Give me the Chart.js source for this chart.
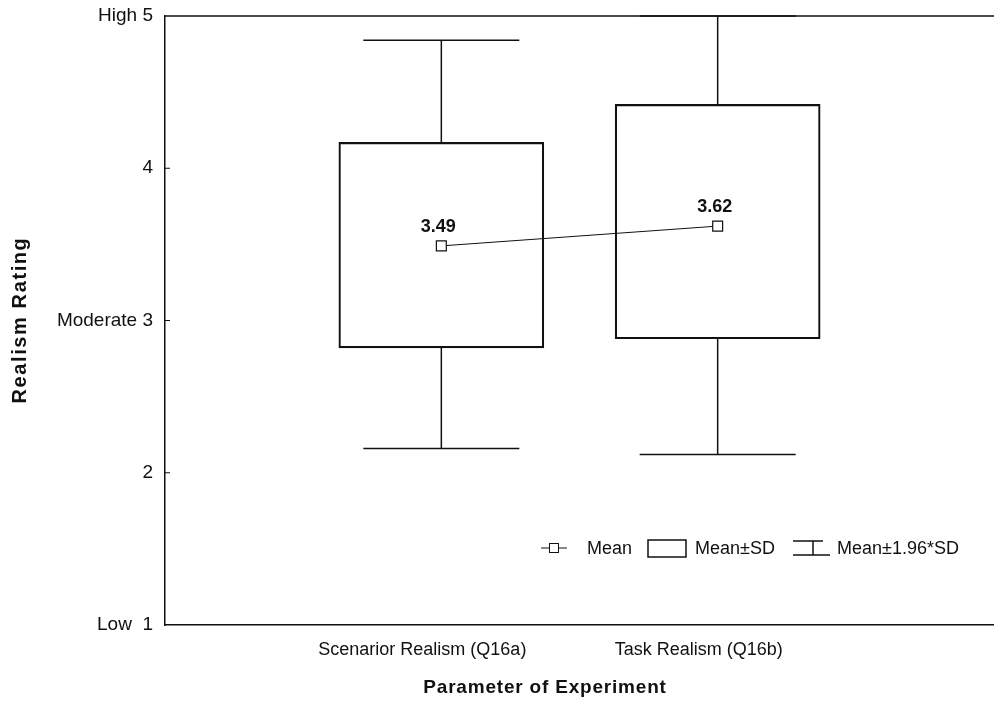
<!DOCTYPE html>
<html>
<head>
<meta charset="utf-8">
<script src="https://cdn.jsdelivr.net/npm/chart.js@4.4.1/dist/chart.umd.min.js"></script>
<style>
  html, body { margin: 0; padding: 0; background: #fff; }
  #wrap { width: 994px; height: 704px; }
</style>
</head>
<body>
<div id="wrap"><canvas id="boxChart" width="994" height="704"></canvas></div>
<script>
// ---- data ----
var groups = ["Scenarior Realism (Q16a)", "Task Realism (Q16b)"];
var groupPos = [1, 2];
var means = [3.49, 3.62];
var sdLow = [2.82, 2.88];
var sdHigh = [4.17, 4.42];
var ciLow = [2.16, 2.12];
var ciHigh = [4.84, 5.0];
var yTickLabels = ["Low  1", "2", "Moderate 3", "4", "High 5"];

var FONT = "'Liberation Sans', Arial, Helvetica, sans-serif";
var INK = "#111";

// whiskers, mean labels, frame, titles, legend
var extrasPlugin = {
  id: "extras",
  beforeDatasetsDraw: function(chart) {
    var ctx = chart.ctx, xs = chart.scales.x, ys = chart.scales.y, area = chart.chartArea;
    ctx.save();
    ctx.beginPath();
    ctx.rect(area.left, area.top - 1, area.right - area.left, area.bottom - area.top + 2);
    ctx.clip();
    ctx.strokeStyle = INK;
    ctx.lineWidth = 1.5;
    groupPos.forEach(function(p, i) {
      var x = xs.getPixelForValue(p);
      var capHalf = 78;
      ctx.beginPath();
      ctx.moveTo(x, ys.getPixelForValue(ciLow[i]));
      ctx.lineTo(x, ys.getPixelForValue(sdLow[i]));
      ctx.moveTo(x, ys.getPixelForValue(sdHigh[i]));
      ctx.lineTo(x, ys.getPixelForValue(ciHigh[i]));
      ctx.moveTo(x - capHalf, ys.getPixelForValue(ciLow[i]));
      ctx.lineTo(x + capHalf, ys.getPixelForValue(ciLow[i]));
      ctx.moveTo(x - capHalf, ys.getPixelForValue(ciHigh[i]));
      ctx.lineTo(x + capHalf, ys.getPixelForValue(ciHigh[i]));
      ctx.stroke();
    });
    ctx.restore();
  },
  afterDraw: function(chart) {
    var ctx = chart.ctx, xs = chart.scales.x, ys = chart.scales.y, area = chart.chartArea;
    ctx.save();
    ctx.strokeStyle = INK;
    ctx.lineWidth = 1.5;

    // top frame line
    ctx.beginPath();
    ctx.moveTo(area.left, area.top);
    ctx.lineTo(area.right, area.top);
    ctx.stroke();

    // small inward ticks on the y axis
    ctx.lineWidth = 1;
    [2, 3, 4].forEach(function(v) {
      var y = ys.getPixelForValue(v);
      ctx.beginPath();
      ctx.moveTo(area.left, y);
      ctx.lineTo(area.left + 5, y);
      ctx.stroke();
    });

    // mean value labels
    ctx.fillStyle = INK;
    ctx.font = "bold 18px " + FONT;
    ctx.textAlign = "center";
    ctx.textBaseline = "bottom";
    groupPos.forEach(function(p, i) {
      ctx.fillText(means[i].toFixed(2), xs.getPixelForValue(p) - 3, ys.getPixelForValue(means[i]) - 10);
    });

    // axis titles
    ctx.font = "bold 19px " + FONT;
    ctx.textBaseline = "middle";
    ctx.letterSpacing = "0.8px";
    ctx.fillText("Parameter of Experiment", 545, 688);
    ctx.save();
    ctx.translate(20, 320);
    ctx.rotate(-Math.PI / 2);
    ctx.letterSpacing = "1.6px";
    ctx.font = "bold 20px " + FONT;
    ctx.fillText("Realism Rating", 0, 0);
    ctx.restore();
    ctx.letterSpacing = "0px";

    // legend
    var ly = 548;
    ctx.lineWidth = 1;
    ctx.beginPath();
    ctx.moveTo(541, ly); ctx.lineTo(567, ly);
    ctx.stroke();
    ctx.fillStyle = "#fff";
    ctx.fillRect(549.5, ly - 4.5, 9, 9);
    ctx.strokeRect(549.5, ly - 4.5, 9, 9);

    ctx.fillStyle = INK;
    ctx.font = "18px " + FONT;
    ctx.textAlign = "left";
    ctx.fillText("Mean", 587, ly + 1);

    ctx.lineWidth = 1.5;
    ctx.strokeRect(648, 540, 38, 17);
    ctx.fillText("Mean\u00B1SD", 695, ly + 1);

    ctx.beginPath();
    ctx.moveTo(793, 541); ctx.lineTo(823, 541);
    ctx.moveTo(813, 541); ctx.lineTo(813, 555);
    ctx.moveTo(793, 555); ctx.lineTo(830, 555);
    ctx.stroke();
    ctx.fillText("Mean\u00B11.96*SD", 837, ly + 1);

    ctx.restore();
  }
};

var boxData = groupPos.map(function(p, i) {
  return { x: p, y: [sdLow[i], sdHigh[i]] };
});
var meanData = groupPos.map(function(p, i) {
  return { x: p, y: means[i] };
});

new Chart(document.getElementById("boxChart"), {
  type: "bar",
  data: {
    datasets: [{
      type: "line",
      label: "Mean",
      data: meanData,
      borderColor: INK,
      borderWidth: 1,
      pointStyle: "rect",
      pointRadius: 7,
      pointBackgroundColor: "#fff",
      pointBorderColor: INK,
      pointBorderWidth: 1.2,
      order: 0
    }, {
      label: "Mean\u00B1SD",
      data: boxData,
      backgroundColor: "rgba(0,0,0,0)",
      borderColor: INK,
      borderWidth: 1.5,
      borderSkipped: false,
      barThickness: 205,
      order: 1
    }]
  },
  options: {
    responsive: false,
    animation: false,
    layout: { autoPadding: false, padding: { top: 16, right: 0, left: 0, bottom: 0 } },
    plugins: {
      legend: { display: false },
      tooltip: { enabled: false }
    },
    scales: {
      x: {
        type: "linear",
        offset: false,
        min: 0,
        max: 3,
        grid: { display: false, drawTicks: false, offset: false },
        border: { display: true, color: INK, width: 1.5 },
        ticks: {
          stepSize: 1,
          autoSkip: false,
          maxRotation: 0,
          padding: 14,
          labelOffset: -19,
          color: INK,
          font: { family: FONT, size: 18 },
          callback: function(v) {
            var i = groupPos.indexOf(v);
            return i >= 0 ? groups[i] : "";
          }
        },
        afterFit: function(scale) {
          scale.height = 79;
          scale.paddingLeft = 0;
          scale.paddingRight = 0;
        }
      },
      y: {
        min: 1,
        max: 5,
        grid: { display: false, drawTicks: false },
        border: { display: true, color: INK, width: 1.5 },
        ticks: {
          stepSize: 1,
          padding: 12,
          color: INK,
          font: { family: FONT, size: 19 },
          callback: function(v) { return yTickLabels[v - 1]; }
        },
        afterFit: function(scale) {
          scale.width = 165;
          scale.paddingTop = 0;
          scale.paddingBottom = 0;
        }
      }
    }
  },
  plugins: [extrasPlugin]
});
</script>
</body>
</html>
